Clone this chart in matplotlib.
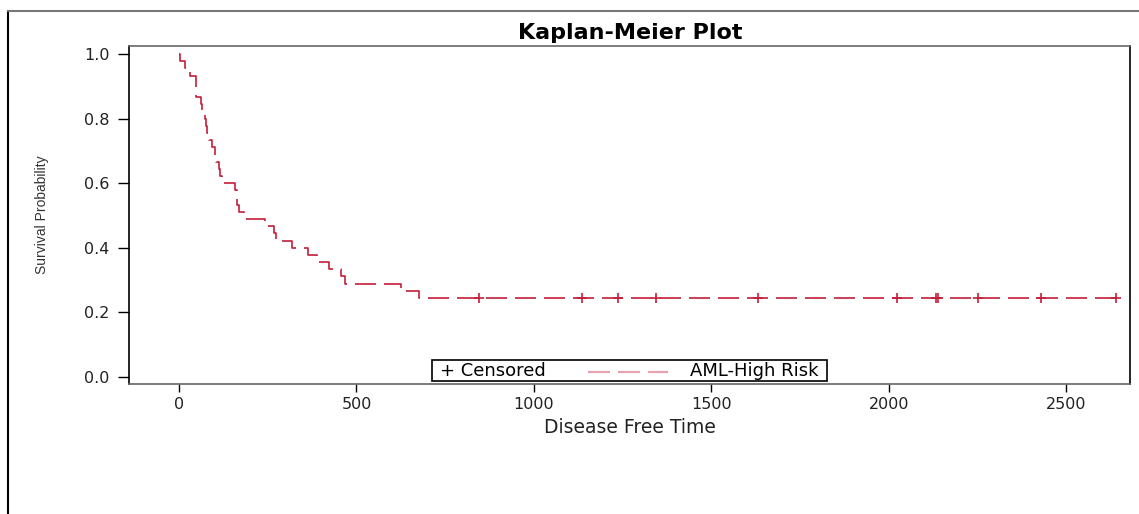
import numpy as np
import matplotlib
matplotlib.use("Agg")
import matplotlib.pyplot as plt
from matplotlib.lines import Line2D
from matplotlib.offsetbox import AnchoredOffsetbox, HPacker, TextArea, DrawingArea

# AML-High Risk group: disease free times (days)
event_times = [2, 16, 32, 47, 47, 48, 63, 64, 74, 76, 80, 84, 93, 100, 105, 113,
               115, 120, 157, 162, 164, 168, 183, 242, 268, 273, 318, 363, 390,
               422, 456, 467, 625, 677]
censored_times = [845, 1136, 1238, 1345, 1631, 2024, 2133, 2140, 2252, 2430, 2640]

x_ticks = [0, 500, 1000, 1500, 2000, 2500]
y_ticks = [0.0, 0.2, 0.4, 0.6, 0.8, 1.0]

curve_color = "#C41E3A"
key_color = "#E8A3B0"


def kaplan_meier(events, censored):
    "Product-limit estimate, returns step points and the censored levels"
    n_total = len(events) + len(censored)
    all_t = sorted(set(events) | set(censored))
    xs, ys = [0], [1.0]
    s = 1.0
    at_risk = n_total
    cens_y = []
    for t in all_t:
        d = events.count(t)
        c = censored.count(t)
        if d > 0:
            s *= 1 - d / at_risk
            xs.append(t)
            ys.append(s)
        if c > 0:
            cens_y.append(s)
        at_risk -= d + c
    xs.append(max(all_t))
    ys.append(s)
    return np.array(xs), np.array(ys), np.array(cens_y)


xs, ys, cens_y = kaplan_meier(event_times, censored_times)

W, H = 1139, 514
fig = plt.figure(figsize=(W / 100, H / 100), dpi=100)
ax = fig.add_axes([129 / W, 1 - 384 / H, (1130 - 129) / W, (384 - 46) / H])

ax.step(xs, ys, where="post", color=curve_color, lw=1.2, ls=(0, (12.6, 4.8)))
ax.plot(censored_times, cens_y, ls="none", marker="+", ms=7, mew=1.2,
        color=curve_color)

ax.set_xlim(-141, 2680)
ax.set_ylim(-0.022, 1.025)
ax.set_xticks(x_ticks)
ax.set_yticks(y_ticks)
ax.set_yticklabels([f"{v:.1f}" for v in y_ticks])

for side in ["left", "right"]:
    ax.spines[side].set_color("black")
    ax.spines[side].set_linewidth(1.2)
for side in ["top", "bottom"]:
    ax.spines[side].set_color("#666666")
    ax.spines[side].set_linewidth(1.2)

ax.tick_params(axis="y", direction="out", length=8, width=1, pad=6,
               labelsize=11.5, labelcolor="#222222")
ax.tick_params(axis="x", direction="out", length=6, width=1, pad=3.5,
               labelsize=11.5, labelcolor="#222222")

ax.set_xlabel("Disease Free Time", fontsize=13.5, color="#222222", labelpad=4)
ax.set_ylabel("Survival Probability", fontsize=10, family="Liberation Sans",
              color="#333333")
ax.yaxis.set_label_coords(-0.080, 0.5)

fig.text(630 / W, 1 - 33 / H, "Kaplan-Meier Plot", ha="center", va="center",
         fontsize=16, fontweight="bold")

# legend box
key = DrawingArea(104, 8, 0, 0)
key.add_artist(Line2D([30, 87.6], [3.5, 3.5], color=key_color, lw=1.6,
                      ls=(0, (9.9, 3.6))))
legend_row = HPacker(children=[DrawingArea(5, 1, 0, 0),
                               TextArea("+ Censored", textprops=dict(fontsize=13)),
                               key,
                               TextArea("AML-High Risk", textprops=dict(fontsize=13)),
                               DrawingArea(5, 1, 0, 0)],
                     align="center", pad=0, sep=0)
box = AnchoredOffsetbox(loc="lower center", child=legend_row, pad=0.1,
                        borderpad=0.2, frameon=True,
                        bbox_to_anchor=(0.5, 0.0), bbox_transform=ax.transAxes)
box.patch.set_boxstyle("square", pad=0)
box.patch.set_edgecolor("black")
box.patch.set_linewidth(1.2)
ax.add_artist(box)

# outer frame lines
fig.add_artist(Line2D([8 / W, 8 / W], [0, 1 - 11 / H], transform=fig.transFigure,
                      color="black", lw=1.5))
fig.add_artist(Line2D([8 / W, 1], [1 - 11 / H, 1 - 11 / H], transform=fig.transFigure,
                      color="#777777", lw=1.5))

fig.savefig("out.png", dpi=100)
